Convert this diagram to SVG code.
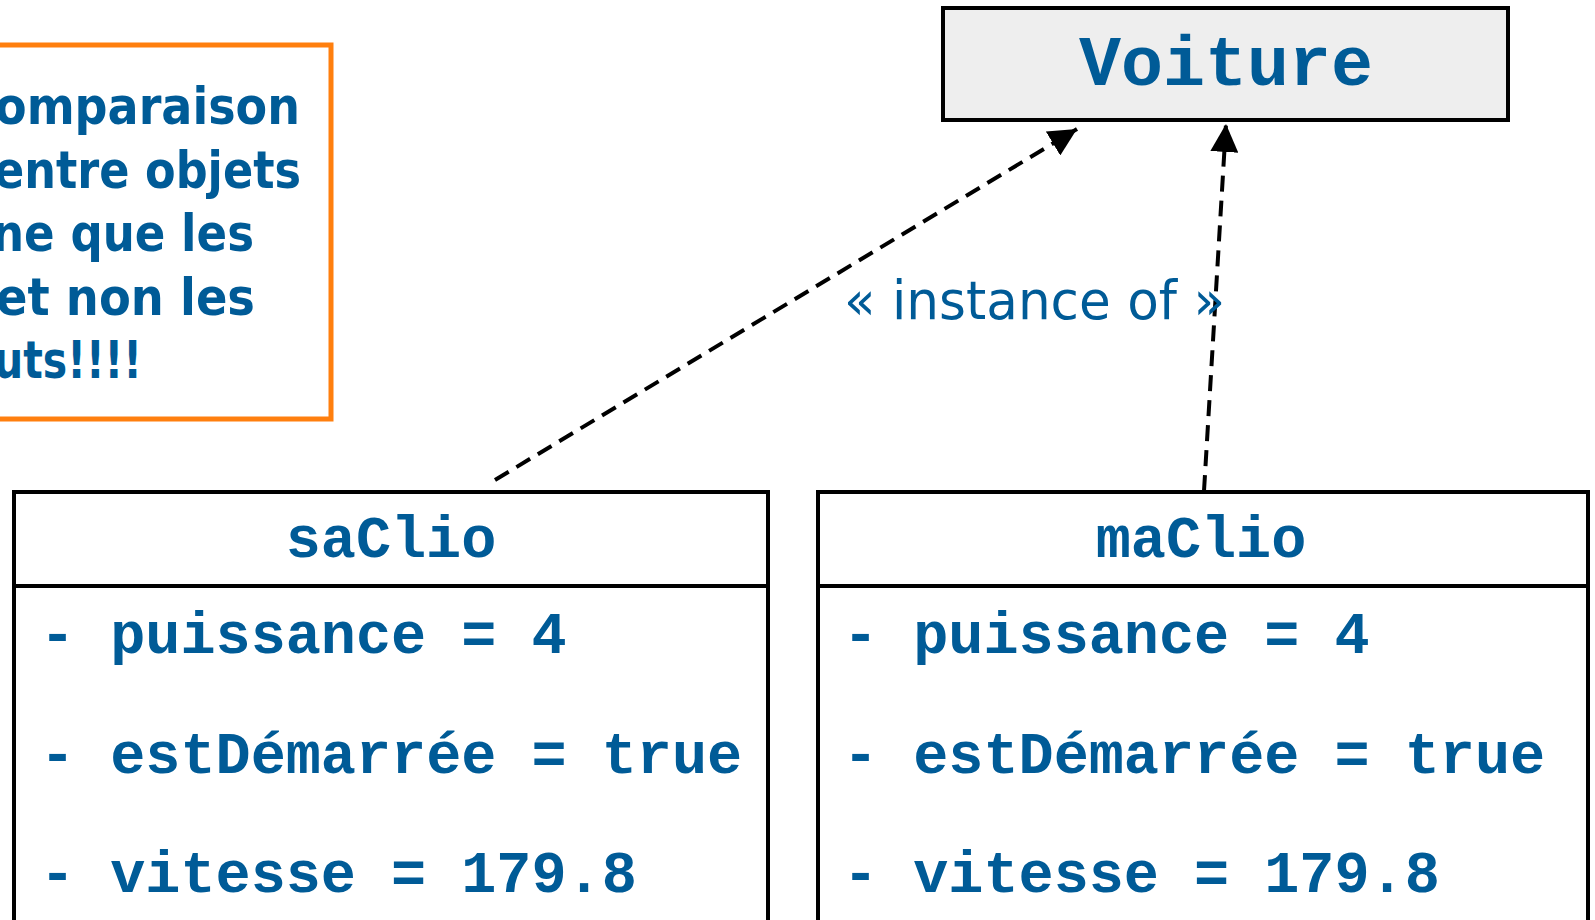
<svg xmlns="http://www.w3.org/2000/svg" width="1595" height="920" viewBox="0 0 1595 920">
<style>
.box{fill:#ffffff;stroke:#000000;stroke-width:4}
.mono{font-family:"Liberation Mono","Courier New",monospace;font-weight:bold;fill:#005b97}
.note{font-family:"DejaVu Sans","Liberation Sans",sans-serif;font-weight:bold;fill:#005b97;font-size:52px}
.lbl{font-family:"DejaVu Sans","Liberation Sans",sans-serif;fill:#005b97;font-size:54px}
.dash{fill:none;stroke:#000000;stroke-width:4;stroke-dasharray:16 9}
</style>
<defs>
<marker id="tri" viewBox="0 0 10 10" refX="10" refY="5" markerUnits="userSpaceOnUse" markerWidth="28" markerHeight="28" orient="auto">
<path d="M0,0 L10,5 L0,10 z" fill="#000000"/>
</marker>
</defs>
<rect width="1595" height="920" fill="#ffffff"/>
<g id="note">
<rect x="-10" y="45" width="341" height="374" fill="#ffffff" stroke="#ff7f0e" stroke-width="5"/>
<text class="note" x="300" y="124" text-anchor="end" textLength="305" lengthAdjust="spacingAndGlyphs">omparaison</text>
<text class="note" x="301" y="188" text-anchor="end" textLength="307" lengthAdjust="spacingAndGlyphs">entre objets</text>
<text class="note" x="254" y="251" text-anchor="end" textLength="262" lengthAdjust="spacingAndGlyphs">ne que les</text>
<text class="note" x="255" y="315" text-anchor="end" textLength="259" lengthAdjust="spacingAndGlyphs">et non les</text>
<text class="note" x="142" y="378" text-anchor="end" textLength="148" lengthAdjust="spacingAndGlyphs">uts!!!!</text>
</g>
<g id="voiture">
<rect x="943" y="8" width="565" height="112" fill="#eeeeee" stroke="#000000" stroke-width="4"/>
<text class="mono" x="1226" y="85" font-size="70" text-anchor="middle">Voiture</text>
</g>
<g id="saClio">
<rect class="box" x="14" y="492" width="754" height="460"/>
<line x1="14" y1="586" x2="768" y2="586" stroke="#000000" stroke-width="4"/>
<text class="mono" x="391" y="557" font-size="58.5" text-anchor="middle">saClio</text>
<text class="mono" x="40" y="653" font-size="58.5">- puissance = 4</text>
<text class="mono" x="40" y="773" font-size="58.5">- estDémarrée = true</text>
<text class="mono" x="40" y="892" font-size="58.5">- vitesse = 179.8</text>
</g>
<g id="maClio">
<rect class="box" x="818" y="492" width="770" height="460"/>
<line x1="818" y1="586" x2="1588" y2="586" stroke="#000000" stroke-width="4"/>
<text class="mono" x="1201" y="557" font-size="58.5" text-anchor="middle">maClio</text>
<text class="mono" x="843" y="653" font-size="58.5">- puissance = 4</text>
<text class="mono" x="843" y="773" font-size="58.5">- estDémarrée = true</text>
<text class="mono" x="843" y="892" font-size="58.5">- vitesse = 179.8</text>
</g>
<g id="connectors">
<line class="dash" x1="495" y1="480" x2="1077" y2="129" marker-end="url(#tri)"/>
<line class="dash" x1="1204" y1="491" x2="1226" y2="124" marker-end="url(#tri)"/>
<text class="lbl" x="844" y="319" textLength="381" lengthAdjust="spacingAndGlyphs">« instance of »</text>
</g>
</svg>
